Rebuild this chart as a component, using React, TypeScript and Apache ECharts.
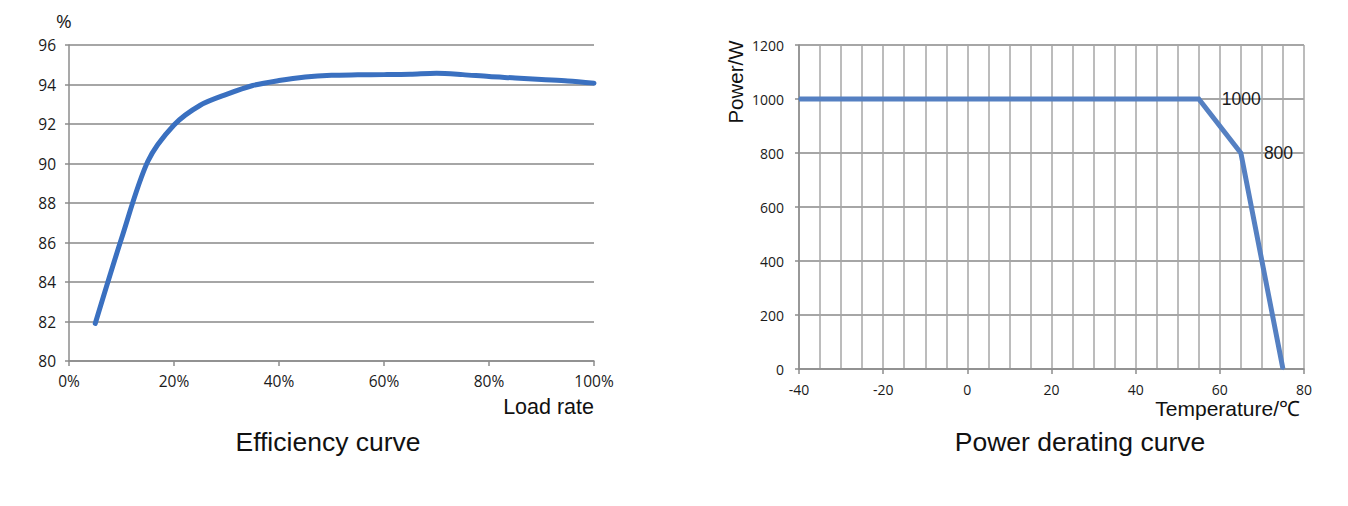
import React, { useEffect, useRef } from "react";
import * as echarts from "echarts";

const loadRate = [5, 10, 15, 20, 25, 30, 35, 40, 45, 50, 55, 60, 65, 70, 75, 80, 85, 90, 95, 100];
const efficiency = [81.9, 86.2, 90.1, 91.95, 92.95, 93.5, 93.95, 94.2, 94.38, 94.47, 94.49, 94.5, 94.52, 94.57, 94.5, 94.4, 94.33, 94.25, 94.18, 94.07];

const temperature = [-40, 55, 65, 75];
const power = [1000, 1000, 800, 0];
const powerLabels = ["", "1000", "800", ""];

const effTicks = { min: 80, max: 96, interval: 2 };
const loadTicks = { min: 0, max: 100, interval: 20 };
const tempTicks = { min: -40, max: 80, interval: 20, minorSplit: 4 };
const powerTicks = { min: 0, max: 1200, interval: 200 };

const TICK_FONT = "'Open Sans', 'Noto Sans', sans-serif";
const ARIAL = "'Liberation Sans', Arial, sans-serif";

export default function App() {
  const ref = useRef<HTMLDivElement>(null);
  useEffect(() => {
    if (!ref.current) return;
    const chart = echarts.init(ref.current, undefined, { renderer: "svg" });
    const gridColor = "#a6a6a6";
    const axisColor = "#8c8c8c";
    chart.setOption({
      animation: false,
      backgroundColor: "#ffffff",
      grid: [
        { left: 69, top: 45, width: 525, height: 316 },
        { left: 799, top: 45, width: 505, height: 324 },
      ],
      xAxis: [
        {
          gridIndex: 0,
          type: "value",
          min: loadTicks.min,
          max: loadTicks.max,
          interval: loadTicks.interval,
          axisLine: { show: true, onZero: false, lineStyle: { color: axisColor, width: 1.5 } },
          axisTick: { show: true, length: 5, lineStyle: { color: axisColor, width: 1.5 } },
          axisLabel: { formatter: "{value}%", color: "#1a1a1a", fontSize: 15.5, fontFamily: TICK_FONT, margin: 12 },
          splitLine: { show: false },
        },
        {
          gridIndex: 1,
          type: "value",
          min: tempTicks.min,
          max: tempTicks.max,
          interval: tempTicks.interval,
          axisLine: { show: true, onZero: false, lineStyle: { color: axisColor, width: 1.5 } },
          axisTick: { show: true, length: 5, lineStyle: { color: axisColor, width: 1.5 } },
          minorTick: { show: false, splitNumber: tempTicks.minorSplit },
          axisLabel: { color: "#1a1a1a", fontSize: 14, fontFamily: TICK_FONT, margin: 13 },
          splitLine: { show: true, lineStyle: { color: gridColor, width: 1.5 } },
          minorSplitLine: { show: true, lineStyle: { color: gridColor, width: 1.5 } },
        },
      ],
      yAxis: [
        {
          gridIndex: 0,
          type: "value",
          min: effTicks.min,
          max: effTicks.max,
          interval: effTicks.interval,
          axisLine: { show: true, onZero: false, lineStyle: { color: axisColor, width: 1.5 } },
          axisTick: { show: true, length: 4, lineStyle: { color: axisColor, width: 1.5 } },
          axisLabel: { color: "#1a1a1a", fontSize: 15.5, fontFamily: TICK_FONT, margin: 13 },
          splitLine: { show: true, lineStyle: { color: gridColor, width: 2 } },
        },
        {
          gridIndex: 1,
          type: "value",
          min: powerTicks.min,
          max: powerTicks.max,
          interval: powerTicks.interval,
          axisLine: { show: true, onZero: false, lineStyle: { color: axisColor, width: 1.5 } },
          axisTick: { show: true, length: 4, lineStyle: { color: axisColor, width: 1.5 } },
          axisLabel: { color: "#1a1a1a", fontSize: 14, fontFamily: TICK_FONT, margin: 15, formatter: (v: number) => String(v) },
          splitLine: { show: true, lineStyle: { color: gridColor, width: 2 } },
        },
      ],
      series: [
        {
          type: "line",
          xAxisIndex: 0,
          yAxisIndex: 0,
          data: loadRate.map((x, i) => [x, efficiency[i]]),
          smooth: 0.3,
          showSymbol: false,
          lineStyle: { color: "#3a70c0", width: 5, cap: "round", join: "round" },
        },
        {
          type: "line",
          xAxisIndex: 1,
          yAxisIndex: 1,
          data: temperature.map((x, i) => ({
            value: [x, power[i]],
            label: powerLabels[i]
              ? {
                  show: true,
                  position: "right",
                  distance: 22,
                  formatter: powerLabels[i],
                  color: "#1a1a1a",
                  fontSize: 17.5,
                  fontFamily: ARIAL,
                }
              : { show: false },
          })),
          showSymbol: true,
          symbol: "circle",
          symbolSize: 2,
          itemStyle: { color: "#5580c2" },
          lineStyle: { color: "#5580c2", width: 5, join: "miter" },
        },
      ],
      graphic: [
        { type: "text", left: 56, top: 11, style: { text: "%", fontSize: 19, fontFamily: TICK_FONT, fill: "#1a1a1a" } },
        { type: "text", right: 1348 - 594, top: 396, style: { text: "Load rate", fontSize: 21.5, fontFamily: ARIAL, fill: "#111" } },
        {
          type: "text",
          x: 328,
          y: 442,
          style: { text: "Efficiency curve", fontSize: 26.5, fontFamily: ARIAL, fill: "#111", align: "center", verticalAlign: "middle" },
        },
        {
          type: "text",
          x: 1080,
          y: 442,
          style: { text: "Power derating curve", fontSize: 26.5, fontFamily: ARIAL, fill: "#111", align: "center", verticalAlign: "middle" },
        },
        {
          type: "text",
          x: 735,
          y: 82,
          rotation: Math.PI / 2,
          style: { text: "Power/W", fontSize: 20.5, fontFamily: ARIAL, fill: "#111", align: "center", verticalAlign: "middle" },
        },
        {
          type: "text",
          right: 1348 - 1300,
          top: 398,
          style: { text: "Temperature/℃", fontSize: 21, fontFamily: ARIAL, fill: "#111" },
        },
      ],
    });
    return () => chart.dispose();
  }, []);
  return (
    <div
      ref={ref}
      style={{ position: "fixed", left: 0, top: 0, width: 1348, height: 506, background: "#fff" }}
    />
  );
}
